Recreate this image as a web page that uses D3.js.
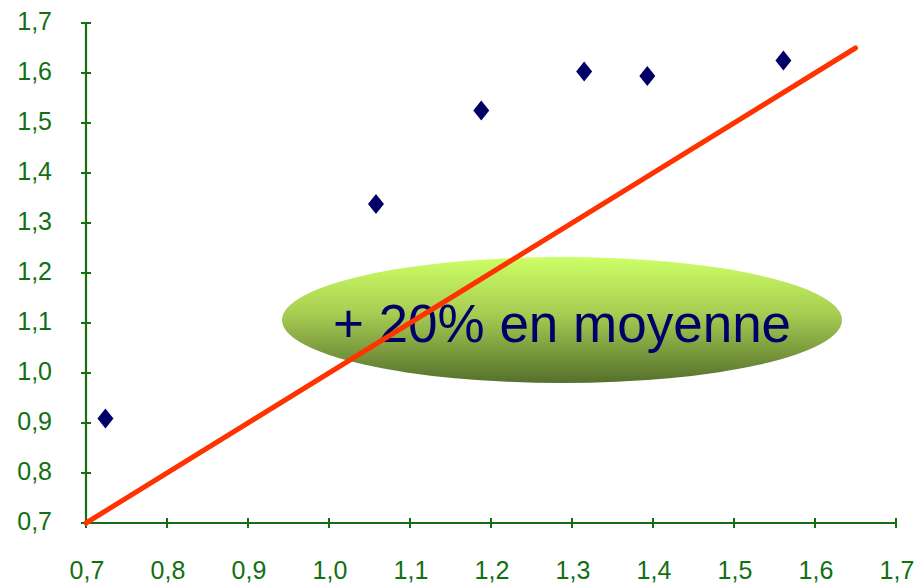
<!DOCTYPE html>
<html>
<head>
<meta charset="utf-8">
<script src="https://cdn.jsdelivr.net/npm/d3@7"></script>
<style>
  html, body { margin: 0; padding: 0; background: #fff; }
  svg { display: block; font-family: "Liberation Sans", Arial, sans-serif; }
</style>
</head>
<body>
<svg id="chart" width="920" height="585"></svg>
<script>
// Measured points (x, y)
const xValues = [0.724, 1.058, 1.188, 1.315, 1.393, 1.561];
const yValues = [0.909, 1.338, 1.525, 1.603, 1.594, 1.625];
// Reference line y = x
const refLine = [[0.7, 0.7], [1.65, 1.65]];
const tickValues = [0.7, 0.8, 0.9, 1.0, 1.1, 1.2, 1.3, 1.4, 1.5, 1.6, 1.7];
const labelText = '+ 20% en moyenne';

const AXISCOLOR = '#127012';
const svg = d3.select('#chart');

const x = d3.scaleLinear().domain([0.7, 1.7]).range([86, 896]);
const y = d3.scaleLinear().domain([0.7, 1.7]).range([523, 23]);
const fmt = (d) => d3.format('.1f')(d).replace('.', ',');

// Axis lines
svg.append('line')
  .attr('x1', x(0.7)).attr('x2', x(1.7))
  .attr('y1', y(0.7)).attr('y2', y(0.7))
  .attr('stroke', AXISCOLOR).attr('stroke-width', 2.2);
svg.append('line')
  .attr('x1', x(0.7)).attr('x2', x(0.7))
  .attr('y1', y(0.7)).attr('y2', y(1.7))
  .attr('stroke', AXISCOLOR).attr('stroke-width', 2.2);

// Ticks crossing the axes
svg.append('g').selectAll('line').data(tickValues).join('line')
  .attr('x1', (d) => x(d)).attr('x2', (d) => x(d))
  .attr('y1', y(0.7) - 5).attr('y2', y(0.7) + 5)
  .attr('stroke', AXISCOLOR).attr('stroke-width', 2);
svg.append('g').selectAll('line').data(tickValues).join('line')
  .attr('x1', x(0.7) - 5).attr('x2', x(0.7) + 5)
  .attr('y1', (d) => y(d)).attr('y2', (d) => y(d))
  .attr('stroke', AXISCOLOR).attr('stroke-width', 2);

// Tick labels
svg.append('g').selectAll('text').data(tickValues).join('text')
  .attr('x', (d) => x(d) + 1).attr('y', 579)
  .attr('text-anchor', 'middle')
  .attr('font-size', 25).attr('fill', AXISCOLOR)
  .text(fmt);
svg.append('g').selectAll('text').data(tickValues).join('text')
  .attr('x', 52).attr('y', (d) => y(d) + 7)
  .attr('text-anchor', 'end')
  .attr('font-size', 25).attr('fill', AXISCOLOR)
  .text(fmt);

// Ellipse with gradient
const grad = svg.append('defs').append('linearGradient')
  .attr('id', 'green').attr('x1', 0).attr('y1', 0).attr('x2', 0).attr('y2', 1);
grad.append('stop').attr('offset', '0%').attr('stop-color', '#ccff66');
grad.append('stop').attr('offset', '45%').attr('stop-color', '#a8cc52');
grad.append('stop').attr('offset', '100%').attr('stop-color', '#55702c');
svg.append('ellipse')
  .attr('cx', 562).attr('cy', 320).attr('rx', 280).attr('ry', 63)
  .attr('fill', 'url(#green)');

// Text inside ellipse
svg.append('text')
  .attr('x', 562).attr('y', 342)
  .attr('text-anchor', 'middle')
  .attr('font-size', 53).attr('fill', '#000066')
  .text(labelText);

// Red reference line (drawn over the ellipse)
svg.append('path')
  .datum(refLine)
  .attr('d', d3.line().x((d) => x(d[0])).y((d) => y(d[1])))
  .attr('stroke', '#ff3300').attr('stroke-width', 5)
  .attr('stroke-linecap', 'round').attr('fill', 'none');

// Diamond markers
const points = xValues.map((v, i) => [v, yValues[i]]);
svg.append('g').selectAll('path').data(points).join('path')
  .attr('transform', (d) => `translate(${x(d[0])},${y(d[1])})`)
  .attr('d', 'M0,-10L8,0L0,10L-8,0Z')
  .attr('fill', '#000066');
</script>
</body>
</html>
